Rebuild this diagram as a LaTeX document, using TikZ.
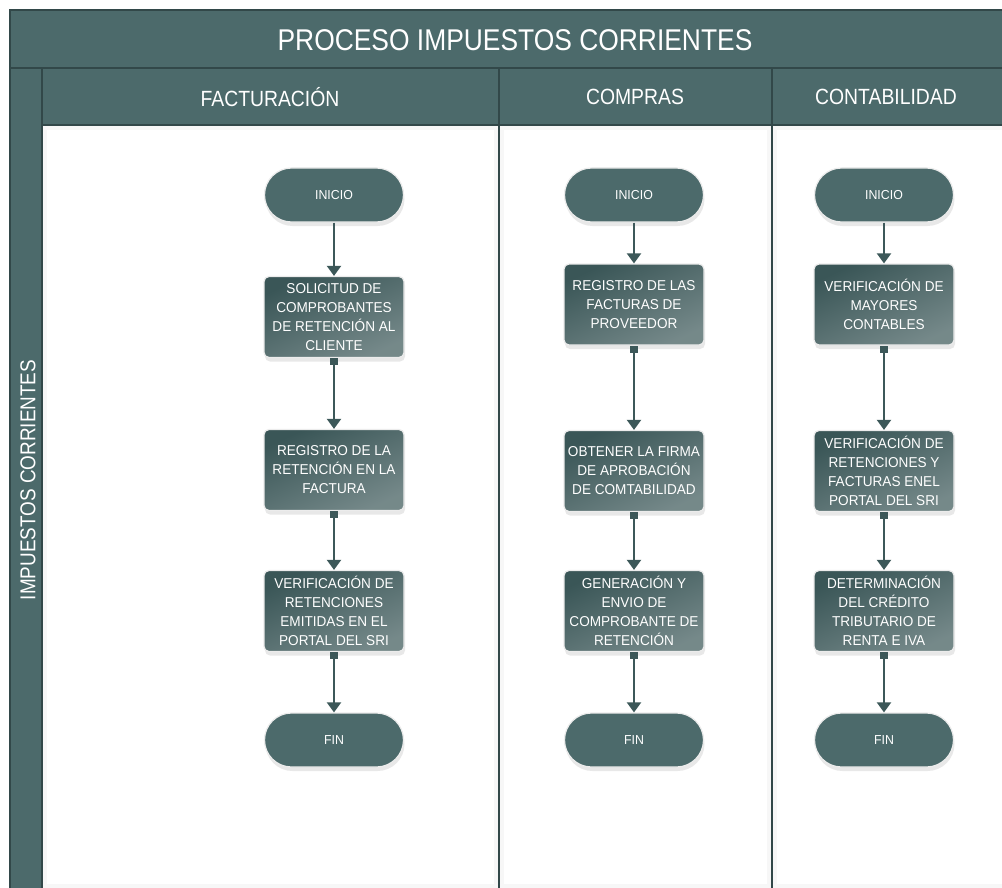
\documentclass[tikz,border=0pt]{standalone}
\usepackage{fontspec}
\setmainfont{Liberation Sans}[FakeStretch=0.95]
\newfontfamily\hdrfont{Liberation Sans}[FakeStretch=0.88]
\usetikzlibrary{arrows.meta,shadows}
\definecolor{teal1}{RGB}{76,106,107}
\definecolor{tealbox}{RGB}{58,86,87}
\definecolor{tealline}{RGB}{60,88,89}
\definecolor{tealdark}{RGB}{50,72,73}
\tikzset{
  band/.style={fill=teal1,draw=tealdark,line width=1.5pt},
  pill/.style={rectangle,rounded corners=27pt,minimum width=139pt,minimum height=54pt,
    fill=teal1,draw=white!85!gray,line width=1.2pt,text=white,font=\fontsize{13}{15}\selectfont,
    drop shadow={shadow xshift=1pt,shadow yshift=-4pt,opacity=0.15,fill=black!60}},
  stepbox/.style={rectangle,rounded corners=5pt,minimum width=140pt,minimum height=81pt,
    top color=tealbox,bottom color=tealbox!70!white,shading angle=25,
    draw=white!85!gray,line width=1.2pt,text=white,align=center,
    font=\fontsize{14.3}{19}\selectfont,
    drop shadow={shadow xshift=1pt,shadow yshift=-4pt,opacity=0.15,fill=black!60}},
  flow/.style={draw=tealline,line width=2pt,-{Triangle[width=14pt,length=10pt]}},
  flowsq/.style={draw=tealline,line width=2pt,{Square[length=7pt,width=8pt]}-{Triangle[width=14pt,length=10pt]}},
}
\begin{document}
\begin{tikzpicture}[x=1pt,y=-1pt]
\useasboundingbox (0,0) rectangle (1002,888);
\clip (0,0) rectangle (1002,888);
\fill[white] (0,0) rectangle (1002,888);
% title bar
\draw[band] (10,10) rectangle (1010,68);
\node[text=white,font=\hdrfont\fontsize{30}{34}\selectfont] (title) at (515,40) {PROCESO IMPUESTOS CORRIENTES};
% left band
\draw[band] (10,68) rectangle (42,900);
\node[text=white,rotate=90,font=\hdrfont\fontsize{21.5}{24}\selectfont] (side) at (28,480) {IMPUESTOS CORRIENTES};
% headers
\draw[band] (42,68) rectangle (499,125);
\draw[band] (499,68) rectangle (772,125);
\draw[band] (772,68) rectangle (1010,125);
\node[text=white,font=\hdrfont\fontsize{22}{26}\selectfont] (h1) at (270,97) {FACTURACIÓN};
\node[text=white,font=\hdrfont\fontsize{22}{26}\selectfont] (h2) at (635,97) {COMPRAS};
\node[text=white,font=\hdrfont\fontsize{22}{26}\selectfont] (h3) at (886,97) {CONTABILIDAD};
% lane bodies
\foreach \a/\b in {42/499,499/772,772/1010}{
  \fill[black!3] (\a,125) rectangle (\b,900);
  \fill[white] (\a+5,130) rectangle (\b-5,884);
  \draw[tealdark,line width=2.5pt] (\a,125) -- (\a,900);
}
\draw[tealdark,line width=1.5pt] (42,125) -- (1010,125);

% lane 1
\node[pill] (i1) at (334,195) {INICIO};
\node[stepbox] (a1) at (334,317) {SOLICITUD DE\\COMPROBANTES\\DE RETENCIÓN AL\\CLIENTE};
\node[stepbox] (a2) at (334,470) {REGISTRO DE LA\\RETENCIÓN EN LA\\FACTURA};
\node[stepbox] (a3) at (334,611) {VERIFICACIÓN DE\\RETENCIONES\\EMITIDAS EN EL\\PORTAL DEL SRI};
\node[pill] (f1) at (334,740) {FIN};
% lane 2
\node[pill] (i2) at (634,195) {INICIO};
\node[stepbox] (b1) at (634,304.5) {REGISTRO DE LAS\\FACTURAS DE\\PROVEEDOR};
\node[stepbox] (b2) at (634,471) {OBTENER LA FIRMA\\DE APROBACIÓN\\DE COMTABILIDAD};
\node[stepbox] (b3) at (634,611) {GENERACIÓN Y\\ENVIO DE\\COMPROBANTE DE\\RETENCIÓN};
\node[pill] (f2) at (634,740) {FIN};
% lane 3
\node[pill] (i3) at (884,195) {INICIO};
\node[stepbox] (c1) at (884,304.5) {VERIFICACIÓN DE\\MAYORES\\CONTABLES};
\node[stepbox] (c2) at (884,471) {VERIFICACIÓN DE\\RETENCIONES Y\\FACTURAS ENEL\\PORTAL DEL SRI};
\node[stepbox] (c3) at (884,611) {DETERMINACIÓN\\DEL CRÉDITO\\TRIBUTARIO DE\\RENTA E IVA};
\node[pill] (f3) at (884,740) {FIN};

% connectors
\draw[flow] (i1) -- (a1);
\draw[flowsq] (a1) -- (a2);
\draw[flowsq] (a2) -- (a3);
\draw[flowsq] (a3) -- (f1);
\draw[flow] (i2) -- (b1);
\draw[flowsq] (b1) -- (b2);
\draw[flowsq] (b2) -- (b3);
\draw[flowsq] (b3) -- (f2);
\draw[flow] (i3) -- (c1);
\draw[flowsq] (c1) -- (c2);
\draw[flowsq] (c2) -- (c3);
\draw[flowsq] (c3) -- (f3);
\end{tikzpicture}
\end{document}
